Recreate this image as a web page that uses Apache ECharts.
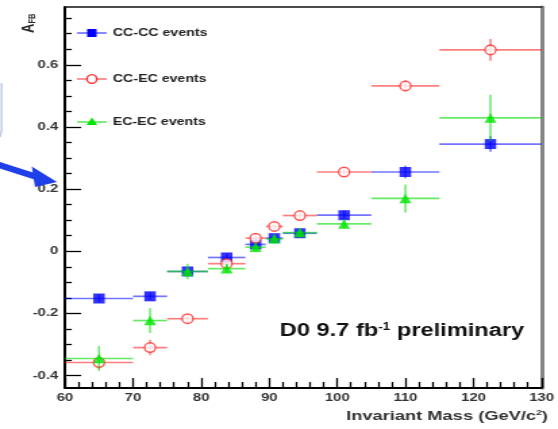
<!DOCTYPE html>
<html>
<head>
<meta charset="utf-8">
<script src="https://cdn.jsdelivr.net/npm/echarts@6/dist/echarts.min.js"></script>
<style>
  html, body { margin: 0; padding: 0; background: #fff; overflow: hidden; }
  #wrap { width: 558px; height: 429px; overflow: hidden; }
  /* plot is drawn on a narrower canvas and widened horizontally */
  #chart { width: 413px; height: 429px; transform: scaleX(1.351); transform-origin: 0 0; }
</style>
</head>
<body>
<div id="wrap"><div id="chart"></div></div>
<script>
// Invariant-mass bins: centre and half width (GeV/c^2)
const massCenters    = [65, 72.5, 78, 83.75, 88, 90.75, 94.5, 101, 110, 122.5];
const massHalfWidths = [5, 2.5, 3, 2.75, 1.5, 1.25, 2.5, 4, 5, 7.5];

// A_FB per bin and its uncertainty
const ccccValues = [-0.152, -0.145, -0.065, -0.020, 0.022, 0.042, 0.058, 0.116, 0.255, 0.345];
const ccccErrors = [0.012, 0.012, 0.012, 0.014, 0.012, 0.012, 0.012, 0.015, 0.020, 0.025];

const ccecValues = [-0.358, -0.310, -0.217, -0.040, 0.042, 0.080, 0.115, 0.255, 0.532, 0.648];
const ccecErrors = [0.022, 0.025, 0.015, 0.015, 0.015, 0.015, 0.012, 0.015, 0.018, 0.035];

const ececValues = [-0.345, -0.223, -0.065, -0.056, 0.013, 0.040, 0.060, 0.088, 0.170, 0.429];
const ececErrors = [0.040, 0.040, 0.025, 0.015, 0.015, 0.015, 0.015, 0.015, 0.045, 0.075];

// Axis ticks
const xTickLabels = [60, 70, 80, 90, 100, 110, 120, 130];
const yTickLabels = [-0.4, -0.2, 0, 0.2, 0.4, 0.6];
const yMinorTicks = [-0.35, -0.3, -0.25, -0.15, -0.1, -0.05, 0.05, 0.1, 0.15, 0.25, 0.3, 0.35,
                     0.45, 0.5, 0.55, 0.65, 0.7, 0.75];

const FONT = 'Liberation Sans, Arial, Helvetica, sans-serif';
const Y_MIN = -0.44, Y_MAX = 0.786;

const COLORS = {
  cccc: { mark: '#0000ff', bar: 'rgba(0,0,255,0.55)' },
  ccec: { mark: '#ff2a2a', bar: 'rgba(255,0,0,0.5)' },
  ecec: { mark: '#00e600', bar: 'rgba(0,220,0,0.6)' }
};

function barData(values, errors) {
  return massCenters.map((x, i) => [
    x, values[i],
    x - massHalfWidths[i], x + massHalfWidths[i],
    values[i] - errors[i], values[i] + errors[i]
  ]);
}

function errorBars(name, values, errors, color, z) {
  return {
    type: 'custom',
    name: name,
    z: z,
    silent: true,
    data: barData(values, errors),
    encode: { x: 0, y: 1 },
    renderItem(params, api) {
      const y = api.value(1);
      const l = api.coord([api.value(2), y]);
      const r = api.coord([api.value(3), y]);
      const lo = api.coord([api.value(0), api.value(4)]);
      const hi = api.coord([api.value(0), api.value(5)]);
      return {
        type: 'group',
        children: [
          { type: 'line', shape: { x1: l[0], y1: l[1], x2: r[0], y2: r[1] },
            style: { stroke: color, lineWidth: 1.7 } },
          { type: 'line', shape: { x1: lo[0], y1: lo[1], x2: hi[0], y2: hi[1] },
            style: { stroke: color, lineWidth: 1.5 } }
        ]
      };
    }
  };
}

function markers(name, values, symbol, size, itemStyle, z) {
  return {
    type: 'scatter',
    name: name,
    z: z,
    silent: true,
    symbol: symbol,
    symbolSize: size,
    itemStyle: itemStyle,
    data: massCenters.map((x, i) => [x, values[i]])
  };
}

const tickLine = { color: '#000', width: 1.3 };
const labelStyle = { fontFamily: FONT, fontWeight: 'bold', fontSize: 11, color: '#333' };

// Legend rows, drawn as line + marker + text
const legendRows = [
  { y: 33,  text: 'CC-CC events', c: COLORS.cccc,
    shape: { type: 'rect', shape: { x: 64.5, y: 29, width: 7, height: 8 }, style: { fill: COLORS.cccc.mark } } },
  { y: 79,  text: 'CC-EC events', c: COLORS.ccec,
    shape: { type: 'ellipse', shape: { cx: 68, cy: 79, rx: 3.6, ry: 4.4 }, style: { fill: '#fff', stroke: COLORS.ccec.mark, lineWidth: 1.3 } } },
  { y: 122, text: 'EC-EC events', c: COLORS.ecec,
    shape: { type: 'polygon', shape: { points: [[68, 117.5], [72, 125], [64, 125]] }, style: { fill: COLORS.ecec.mark } } }
];
const legendGraphics = [];
legendRows.forEach(r => {
  legendGraphics.push({ type: 'line', shape: { x1: 57, y1: r.y, x2: 79, y2: r.y },
    style: { stroke: r.c.bar, lineWidth: 1.7 }, z: 20 });
  legendGraphics.push(Object.assign({ z: 21 }, r.shape));
  legendGraphics.push({ type: 'text', x: 83.5, y: r.y, z: 21,
    style: { text: r.text, fontFamily: FONT, fontWeight: 'bold', fontSize: 10.5, fill: '#222',
             align: 'left', verticalAlign: 'middle' } });
});

const chart = echarts.init(document.getElementById('chart'), null, { renderer: 'canvas' });

chart.setOption({
  animation: false,
  backgroundColor: '#fff',
  grid: { left: 48.1, right: 9.6, top: 7, bottom: 41, containLabel: false },
  xAxis: [
    {
      type: 'value', min: 60, max: 130, interval: 10, position: 'bottom',
      axisLine: { onZero: false, lineStyle: { color: '#000', width: 2 } },
      axisTick: { inside: true, length: 10, lineStyle: tickLine },
      minorTick: { show: true, splitNumber: 5, length: 6, lineStyle: tickLine },
      axisLabel: Object.assign({ margin: 4, customValues: xTickLabels }, labelStyle),
      splitLine: { show: false }
    },
    {
      type: 'value', min: 60, max: 130, position: 'top',
      axisLine: { onZero: false, lineStyle: { color: '#111', width: 1.5 } },
      axisTick: { show: false }, axisLabel: { show: false }, splitLine: { show: false }
    }
  ],
  yAxis: [
    {
      type: 'value', min: Y_MIN, max: Y_MAX, position: 'left',
      axisLine: { onZero: false, lineStyle: { color: '#000', width: 2 } },
      axisTick: { inside: true, length: 12, customValues: yTickLabels, lineStyle: tickLine },
      axisLabel: Object.assign({
        margin: 5, customValues: yTickLabels,
        formatter: v => String(Math.round(v * 10) / 10)
      }, labelStyle),
      splitLine: { show: false }
    },
    {
      type: 'value', min: Y_MIN, max: Y_MAX, position: 'left',
      axisLine: { show: false },
      axisTick: { inside: true, length: 5, customValues: yMinorTicks, lineStyle: tickLine },
      axisLabel: { show: false }, splitLine: { show: false }
    },
    {
      type: 'value', min: Y_MIN, max: Y_MAX, position: 'right',
      axisLine: { onZero: false, lineStyle: { color: '#858585', width: 3 } },
      axisTick: { show: false }, axisLabel: { show: false }, splitLine: { show: false }
    }
  ],
  series: [
    errorBars('CC-CC events', ccccValues, ccccErrors, COLORS.cccc.bar, 2),
    markers('CC-CC events', ccccValues, 'rect', [8.5, 10], { color: COLORS.cccc.mark }, 3),
    errorBars('CC-EC events', ccecValues, ccecErrors, COLORS.ccec.bar, 4),
    markers('CC-EC events', ccecValues, 'circle', [8, 9.5],
      { color: '#fff', borderColor: COLORS.ccec.mark, borderWidth: 1.4 }, 5),
    errorBars('EC-EC events', ececValues, ececErrors, COLORS.ecec.bar, 6),
    markers('EC-EC events', ececValues, 'triangle', [9, 9.5], { color: COLORS.ecec.mark }, 7)
  ],
  graphic: [
    // y-axis title A_FB
    { type: 'text', x: 21, y: 33, rotation: Math.PI / 2, z: 20,
      style: { text: 'A{s|FB}', fontFamily: FONT, fontWeight: 'bold', fontSize: 13, fill: '#222',
               align: 'left', verticalAlign: 'middle',
               rich: { s: { fontFamily: FONT, fontWeight: 'bold', fontSize: 7.5, fill: '#222',
                            verticalAlign: 'bottom', padding: [6, 0, 0, 0] } } } },
    // x-axis title
    { type: 'text', x: 405.6, y: 416, z: 20,
      style: { text: 'Invariant Mass (GeV/c{s|2})', fontFamily: FONT, fontWeight: 'bold', fontSize: 13.5,
               fill: '#333', align: 'right', verticalAlign: 'middle',
               rich: { s: { fontFamily: FONT, fontWeight: 'bold', fontSize: 8, fill: '#333',
                            verticalAlign: 'top', padding: [0, 0, 6, 0] } } } },
    // experiment label
    { type: 'text', x: 207, y: 331, z: 20,
      style: { text: 'D0 9.7 fb{s|-1} preliminary', fontFamily: FONT, fontWeight: 'bold', fontSize: 17.5,
               fill: '#111', align: 'left', verticalAlign: 'middle',
               rich: { s: { fontFamily: FONT, fontWeight: 'bold', fontSize: 10, fill: '#111',
                            verticalAlign: 'top', padding: [0, 0, 8, 0] } } } },
    // pointer arrow at the left margin
    { type: 'polyline', z: 20, shape: { points: [[-2, 164.5], [26, 176.5]] },
      style: { stroke: '#1f3fe8', lineWidth: 6, fill: null } },
    { type: 'polygon', z: 20, shape: { points: [[23.5, 166.5], [42.2, 182], [25.9, 187]] },
      style: { fill: '#1f3fe8' } },
    { type: 'polyline', z: 20, shape: { points: [[1.2, 83], [1.2, 130], [0, 137]] },
      style: { stroke: '#c6cee6', lineWidth: 1.5, fill: null } }
  ].concat(legendGraphics)
});
</script>
</body>
</html>
